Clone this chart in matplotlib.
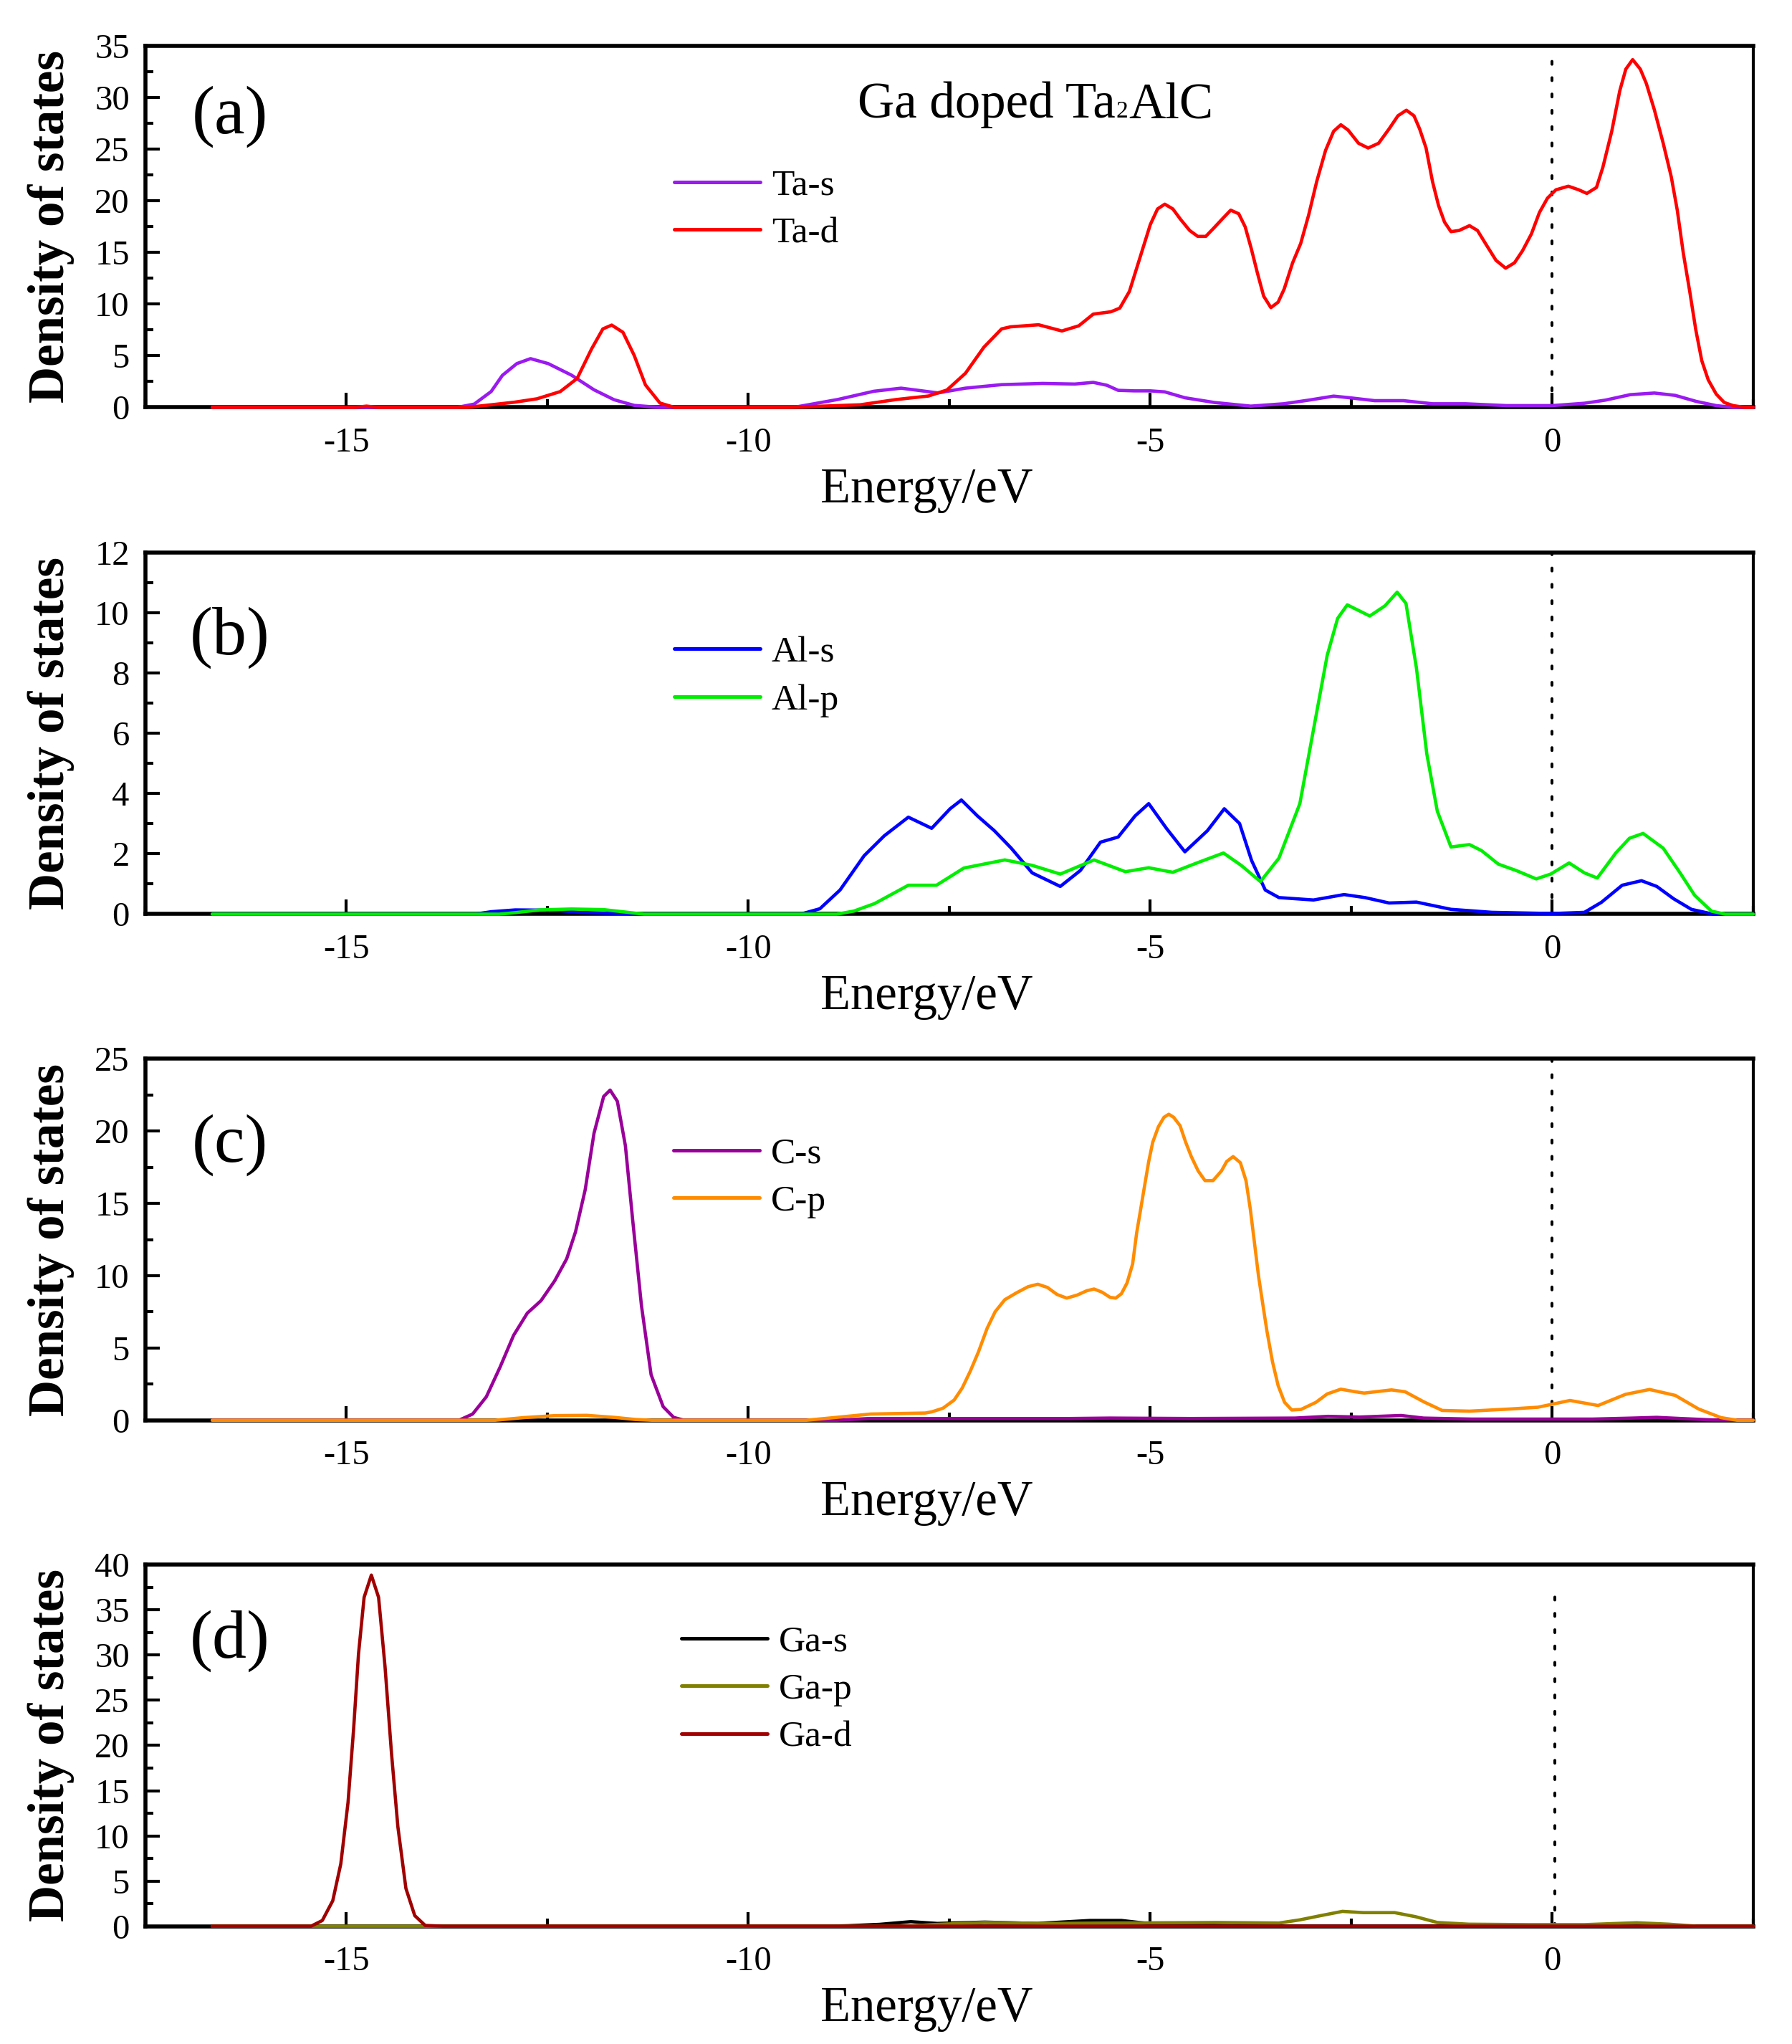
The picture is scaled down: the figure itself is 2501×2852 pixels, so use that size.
import matplotlib
matplotlib.use("Agg")
import matplotlib.pyplot as plt
from matplotlib.ticker import MultipleLocator
from matplotlib.font_manager import FontProperties

# ---------------- data (energy eV, DOS) ----------------
ta_s = [(-16.67, 0), (-13.62, 0), (-13.41, 0.32), (-13.20, 1.53), (-13.06, 3.1), (-12.88, 4.24),
        (-12.71, 4.72), (-12.49, 4.24), (-12.20, 3.12), (-11.92, 1.7), (-11.67, 0.74), (-11.42, 0.19),
        (-11.10, 0), (-9.40, 0.05), (-8.89, 0.76), (-8.44, 1.56), (-8.10, 1.86), (-7.87, 1.63),
        (-7.64, 1.4), (-7.30, 1.86), (-6.85, 2.2), (-6.34, 2.32), (-5.94, 2.26), (-5.71, 2.42),
        (-5.54, 2.14), (-5.40, 1.65), (-5.20, 1.6), (-5.00, 1.6), (-4.82, 1.5), (-4.57, 0.93),
        (-4.20, 0.47), (-3.75, 0.12), (-3.34, 0.35), (-3.03, 0.7), (-2.72, 1.09), (-2.52, 0.93),
        (-2.21, 0.65), (-1.85, 0.65), (-1.49, 0.35), (-1.08, 0.35), (-0.57, 0.17), (0.0, 0.17),
        (0.40, 0.4), (0.66, 0.7), (0.97, 1.23), (1.27, 1.39), (1.53, 1.16), (1.79, 0.58),
        (2.04, 0.17), (2.25, 0), (2.50, 0)]
ta_d = [(-16.67, 0), (-14.9, 0), (-14.75, 0.12), (-14.6, 0), (-13.5, 0), (-13.27, 0.19), (-12.91, 0.5),
        (-12.63, 0.83), (-12.34, 1.53), (-12.13, 2.8), (-11.95, 5.67), (-11.81, 7.6), (-11.70, 7.97),
        (-11.56, 7.27), (-11.42, 5.03), (-11.28, 2.17), (-11.10, 0.42), (-10.92, 0), (-9.5, 0),
        (-8.61, 0.25), (-8.16, 0.76), (-7.76, 1.1), (-7.53, 1.68), (-7.30, 3.3), (-7.07, 5.83),
        (-6.85, 7.6), (-6.74, 7.8), (-6.39, 8.0), (-6.10, 7.4), (-5.89, 7.9), (-5.71, 9.03),
        (-5.49, 9.26), (-5.38, 9.61), (-5.26, 11.23), (-5.13, 14.47), (-5.00, 17.71), (-4.91, 19.22),
        (-4.82, 19.68), (-4.72, 19.22), (-4.62, 18.17), (-4.51, 17.13), (-4.41, 16.56),
        (-4.31, 16.56), (-4.21, 17.37), (-4.10, 18.29), (-4.00, 19.1), (-3.90, 18.75),
        (-3.82, 17.48), (-3.745, 15.4), (-3.67, 13.08), (-3.59, 10.77), (-3.50, 9.66),
        (-3.41, 10.19), (-3.335, 11.46), (-3.23, 14.0), (-3.13, 15.86), (-3.03, 18.64),
        (-2.93, 21.88), (-2.82, 24.89), (-2.72, 26.74), (-2.63, 27.37), (-2.54, 26.86),
        (-2.41, 25.58), (-2.29, 25.12), (-2.16, 25.58), (-2.03, 26.97), (-1.92, 28.24),
        (-1.815, 28.78), (-1.72, 28.24), (-1.65, 26.97), (-1.57, 25.12), (-1.49, 21.88),
        (-1.415, 19.56), (-1.34, 17.94), (-1.26, 17.02), (-1.16, 17.13), (-1.03, 17.6),
        (-0.93, 17.13), (-0.83, 15.86), (-0.70, 14.24), (-0.58, 13.48), (-0.47, 14.0),
        (-0.37, 15.17), (-0.26, 16.79), (-0.16, 18.87), (-0.06, 20.26), (0.045, 21.07),
        (0.20, 21.42), (0.33, 21.07), (0.43, 20.72), (0.55, 21.3), (0.63, 23.27), (0.74, 26.74),
        (0.84, 30.67), (0.915, 32.76), (1.0, 33.68), (1.095, 32.76), (1.17, 31.37), (1.27, 28.82),
        (1.38, 25.58), (1.48, 22.34), (1.555, 19.1), (1.63, 14.94), (1.71, 11.23), (1.785, 7.53),
        (1.86, 4.52), (1.94, 2.67), (2.04, 1.28), (2.14, 0.47), (2.25, 0.17), (2.40, 0), (2.50, 0)]

al_s = [(-16.67, 0), (-13.4, 0), (-13.2, 0.08), (-12.9, 0.14), (-12.4, 0.13), (-12.1, 0.06),
        (-11.6, 0.02), (-11.3, 0), (-9.35, 0), (-9.11, 0.18), (-8.86, 0.8), (-8.56, 1.94),
        (-8.31, 2.6), (-8.01, 3.22), (-7.72, 2.85), (-7.49, 3.5), (-7.35, 3.79), (-7.15, 3.26),
        (-6.94, 2.77), (-6.73, 2.19), (-6.47, 1.37), (-6.12, 0.92), (-5.87, 1.45), (-5.62, 2.39),
        (-5.40, 2.56), (-5.19, 3.26), (-5.02, 3.67), (-4.80, 2.85), (-4.57, 2.07), (-4.29, 2.77),
        (-4.08, 3.5), (-3.89, 3.01), (-3.74, 1.78), (-3.57, 0.8), (-3.40, 0.55), (-2.97, 0.47),
        (-2.59, 0.65), (-2.33, 0.55), (-2.03, 0.37), (-1.69, 0.4), (-1.26, 0.16), (-0.75, 0.06),
        (0.0, 0.02), (0.40, 0.06), (0.61, 0.39), (0.87, 0.96), (1.11, 1.11), (1.30, 0.92),
        (1.51, 0.51), (1.73, 0.16), (2.0, 0), (2.5, 0)]
al_p = [(-16.67, 0), (-13.1, 0), (-12.9, 0.05), (-12.6, 0.14), (-12.2, 0.17), (-11.8, 0.15),
        (-11.5, 0.06), (-11.3, 0), (-8.9, 0), (-8.69, 0.1), (-8.43, 0.35), (-8.01, 0.96),
        (-7.66, 0.96), (-7.32, 1.53), (-6.81, 1.8), (-6.47, 1.62), (-6.12, 1.33), (-5.70, 1.8),
        (-5.31, 1.41), (-5.02, 1.54), (-4.72, 1.39), (-4.42, 1.7), (-4.09, 2.03), (-3.87, 1.62),
        (-3.63, 1.08), (-3.40, 1.86), (-3.14, 3.67), (-2.97, 6.13), (-2.80, 8.59), (-2.67, 9.82),
        (-2.55, 10.27), (-2.27, 9.9), (-2.08, 10.24), (-1.93, 10.69), (-1.82, 10.32), (-1.69, 8.18),
        (-1.56, 5.31), (-1.43, 3.42), (-1.26, 2.23), (-1.03, 2.31), (-0.88, 2.11), (-0.67, 1.66),
        (-0.45, 1.45), (-0.20, 1.17), (-0.02, 1.33), (0.21, 1.7), (0.40, 1.37), (0.56, 1.2),
        (0.79, 2.03), (0.96, 2.52), (1.13, 2.68), (1.38, 2.19), (1.59, 1.37), (1.77, 0.63),
        (1.98, 0.1), (2.15, 0), (2.5, 0)]

c_s = [(-16.67, 0), (-13.60, 0), (-13.43, 0.43), (-13.26, 1.62), (-13.09, 3.66), (-12.92, 5.88),
       (-12.75, 7.41), (-12.58, 8.27), (-12.41, 9.64), (-12.26, 11.17), (-12.15, 13.04),
       (-12.03, 15.94), (-11.92, 19.86), (-11.80, 22.4), (-11.72, 22.84), (-11.63, 22.07),
       (-11.53, 19.0), (-11.44, 13.9), (-11.33, 7.93), (-11.21, 3.15), (-11.06, 0.94),
       (-10.93, 0.2), (-10.8, 0), (-8.9, 0), (-8.5, 0.12), (-6.0, 0.12), (-5.5, 0.15),
       (-4.5, 0.12), (-3.2, 0.15), (-2.79, 0.27), (-2.4, 0.22), (-1.88, 0.33), (-1.6, 0.15),
       (-1.0, 0.08), (0.5, 0.08), (1.0, 0.15), (1.30, 0.2), (1.6, 0.12), (2.0, 0.02), (2.5, 0)]
c_p = [(-16.67, 0), (-13.15, 0), (-12.80, 0.18), (-12.41, 0.32), (-12.01, 0.34), (-11.67, 0.2),
       (-11.4, 0.05), (-11.2, 0), (-9.28, 0), (-8.94, 0.18), (-8.48, 0.43), (-7.80, 0.5),
       (-7.72, 0.58), (-7.58, 0.83), (-7.44, 1.4), (-7.34, 2.23), (-7.24, 3.39), (-7.14, 4.7),
       (-7.03, 6.36), (-6.93, 7.51), (-6.81, 8.34), (-6.66, 8.83), (-6.52, 9.24), (-6.40, 9.41),
       (-6.28, 9.19), (-6.16, 8.7), (-6.04, 8.45), (-5.91, 8.66), (-5.79, 8.96), (-5.70, 9.08),
       (-5.60, 8.86), (-5.50, 8.5), (-5.43, 8.45), (-5.36, 8.75), (-5.29, 9.49), (-5.22, 10.81),
       (-5.17, 12.96), (-5.12, 14.6), (-5.07, 16.26), (-5.02, 17.9), (-4.97, 19.23),
       (-4.90, 20.3), (-4.83, 20.96), (-4.77, 21.17), (-4.71, 20.96), (-4.63, 20.38),
       (-4.56, 19.23), (-4.49, 18.24), (-4.405, 17.25), (-4.32, 16.58), (-4.22, 16.58),
       (-4.115, 17.25), (-4.05, 17.9), (-3.97, 18.24), (-3.88, 17.82), (-3.81, 16.58),
       (-3.756, 14.6), (-3.705, 12.3), (-3.654, 9.98), (-3.60, 8.0), (-3.55, 6.19), (-3.48, 4.04),
       (-3.41, 2.4), (-3.33, 1.24), (-3.24, 0.71), (-3.125, 0.75), (-2.94, 1.24), (-2.80, 1.82),
       (-2.63, 2.15), (-2.46, 1.98), (-2.34, 1.88), (-2.00, 2.1), (-1.83, 1.97), (-1.60, 1.28),
       (-1.37, 0.68), (-1.03, 0.63), (-0.52, 0.78), (-0.18, 0.9), (0.0, 1.11), (0.22, 1.37),
       (0.57, 1.02), (0.91, 1.79), (1.21, 2.13), (1.53, 1.72), (1.82, 0.78), (2.10, 0.18),
       (2.3, 0), (2.5, 0)]

ga_s = [(-16.67, 0), (-9.0, 0), (-8.76, 0.05), (-8.37, 0.2), (-7.98, 0.5), (-7.65, 0.3),
        (-7.06, 0.45), (-6.41, 0.3), (-5.75, 0.63), (-5.36, 0.63), (-5.03, 0.3), (-4.6, 0.2),
        (-4.0, 0.05), (-3.5, 0), (2.5, 0)]
ga_p = [(-16.67, 0), (-8.0, 0), (-7.72, 0.17), (-7.06, 0.41), (-6.28, 0.3), (-5.5, 0.35),
        (-4.18, 0.41), (-3.40, 0.35), (-3.14, 0.7), (-2.88, 1.17), (-2.61, 1.64), (-2.35, 1.5),
        (-1.96, 1.5), (-1.70, 1.05), (-1.43, 0.41), (-1.04, 0.22), (-0.3, 0.17), (0.4, 0.17),
        (1.05, 0.38), (1.45, 0.22), (1.8, 0), (2.5, 0)]
ga_d = [(-16.67, 0), (-15.44, 0), (-15.30, 0.63), (-15.17, 2.82), (-15.07, 6.9), (-14.98, 13.7),
        (-14.91, 21.9), (-14.85, 30.1), (-14.78, 36.4), (-14.69, 38.86), (-14.60, 36.4),
        (-14.52, 28.75), (-14.44, 19.2), (-14.36, 11.0), (-14.26, 4.18), (-14.15, 1.17),
        (-14.02, 0.08), (-13.8, 0), (2.5, 0)]

panel_tags = ["(a)", "(b)", "(c)", "(d)"]
series_names = [["Ta-s", "Ta-d"], ["Al-s", "Al-p"], ["C-s", "C-p"], ["Ga-s", "Ga-p", "Ga-d"]]
series_data = [[ta_s, ta_d], [al_s, al_p], [c_s, c_p], [ga_s, ga_p, ga_d]]
y_max = [35, 12, 25, 40]
y_major = [5, 2, 5, 5]
y_minor = [2.5, 1, 2.5, 2.5]
x_ticks_major = 5
x_ticks_minor = 2.5
fermi = [0.0, 0.0, 0.0, 0.03]
title_parts = ["Ga doped Ta", "2", "AlC"]

# ---------------- styles / layout ----------------
colors = [["#9A1AF0", "#FF0000"], ["#0000FF", "#00EE00"], ["#990099", "#FF8C00"],
          ["#000000", "#808000", "#A00000"]]
ax_bottoms = [0.80070, 0.55277, 0.30516, 0.05764]
ax_left, ax_w, ax_h = 0.08117, 0.8972, 0.1768
legend_xy = [(0.3291, 0.6594), (0.3289, 0.7696), (0.3284, 0.7833), (0.3333, 0.8322)]
tag_y = [0.7586, 0.720, 0.715, 0.7426]
vline_top = [0.97, 1.0, 1.0, 0.93]

plt.rcParams["font.family"] = ["Liberation Serif", "DejaVu Serif"]
plt.rcParams["axes.unicode_minus"] = False
plt.rcParams["lines.scale_dashes"] = False

DPI = 100
fig = plt.figure(figsize=(25.01, 28.52), dpi=DPI)
renderer = fig.canvas.get_renderer()


def descent_pt(size):
    fp = FontProperties(family=["Liberation Serif"], size=size)
    _, _, d = renderer.get_text_width_height_descent("lp", fp, ismath=False)
    return d * 72.0 / DPI


for i in range(4):
    ax = fig.add_axes([ax_left, ax_bottoms[i], ax_w, ax_h])
    handles = []
    for name, data, col in zip(series_names[i], series_data[i], colors[i]):
        e = [p[0] for p in data]
        v = [p[1] for p in data]
        ln, = ax.plot(e, v, color=col, lw=3.3, label=name, zorder=3, clip_on=False,
                      solid_joinstyle="round", solid_capstyle="round")
        handles.append(ln)
    ax.axvline(fermi[i], ymin=0, ymax=vline_top[i], color="black", lw=2.9,
               linestyle=(0, (2.9, 13.5)), dash_capstyle="round", zorder=2)
    ax.set_xlim(-17.5, 2.5)
    ax.set_ylim(0, y_max[i])
    ax.xaxis.set_major_locator(MultipleLocator(x_ticks_major))
    ax.xaxis.set_minor_locator(MultipleLocator(x_ticks_minor))
    ax.yaxis.set_major_locator(MultipleLocator(y_major[i]))
    ax.yaxis.set_minor_locator(MultipleLocator(y_minor[i]))
    ax.tick_params(which="both", direction="in", top=False, right=False, width=3)
    ax.tick_params(which="major", length=14.4, labelsize=35)
    ax.tick_params(which="minor", length=8)
    ax.tick_params(axis="x", which="major", pad=20)
    ax.tick_params(axis="y", which="major", pad=16)
    for s in ["top", "left", "bottom"]:
        ax.spines[s].set_linewidth(4)
    ax.spines["right"].set_linewidth(3)

    ax.set_xlabel("Energy/eV", fontsize=49.5)
    ax.xaxis.set_label_coords(0.4857, -0.166)
    ax.set_ylabel("Density of states", fontsize=51, fontweight="bold")
    ax.yaxis.set_label_coords(-0.0441, 0.5)

    ax.text(0.0525, tag_y[i], panel_tags[i], transform=ax.transAxes, fontsize=69,
            ha="center", va="baseline")

    leg = ax.legend(handles=handles, loc="upper left", bbox_to_anchor=legend_xy[i],
                    frameon=False, fontsize=37, handlelength=2.33, handletextpad=0.31,
                    labelspacing=0.38, borderpad=0, borderaxespad=0)
    for lh in leg.get_lines():
        lh.set_linewidth(3.6)

    if i == 0:
        t1 = ax.text(0.4430, 0.802, title_parts[0], transform=ax.transAxes, fontsize=51,
                     ha="left", va="baseline")
        t2 = ax.annotate(title_parts[1], xy=(1, 0), xycoords=t1, xytext=(0.5, descent_pt(51)),
                         textcoords="offset points", fontsize=24, ha="left", va="baseline")
        ax.annotate(title_parts[2], xy=(1, 0), xycoords=t2, xytext=(0.5, descent_pt(24)),
                    textcoords="offset points", fontsize=51, ha="left", va="baseline")

fig.savefig("out.png", dpi=DPI)
